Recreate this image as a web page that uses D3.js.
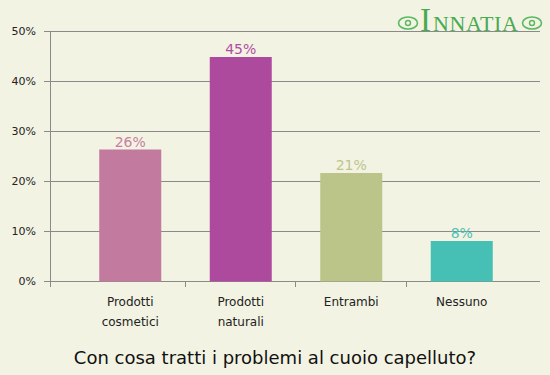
<!DOCTYPE html>
<html>
<head>
<meta charset="utf-8">
<script src="https://cdn.jsdelivr.net/npm/d3@7"></script>
<style>
  body { margin: 0; background: #f3f3e3; }
  svg { display: block; font-family: 'DejaVu Sans', Verdana, sans-serif; }
</style>
</head>
<body>
<div id="chart"></div>
<script>
// chart data
const categories = [['Prodotti', 'cosmetici'], ['Prodotti', 'naturali'], ['Entrambi'], ['Nessuno']];
const values = [26.3, 44.8, 21.6, 8.0];
const labels = ['26%', '45%', '21%', '8%'];
const barColors = ['#c27a9e', '#ae4a9e', '#bbc58a', '#46bfb5'];
const labelColors = ['#c97fa3', '#b04ea3', '#bcc58e', '#4cc2b8'];
const yTicks = [0, 10, 20, 30, 40, 50];

const width = 550;
const height = 375;

const svg = d3.select('#chart')
  .append('svg')
  .attr('width', width)
  .attr('height', height);

svg.append('rect')
  .attr('width', width)
  .attr('height', height)
  .style('fill', '#f3f3e3');

// scales
const xScale = d3.scaleBand()
  .domain(d3.range(categories.length))
  .range([75, 517]);

const yScale = d3.scaleLinear()
  .domain([0, 50])
  .range([281, 31]);

const barWidth = 62;

// logo (behind the grid)
const logo = svg.append('g');
logo.append('text')
  .attr('x', 420)
  .attr('y', 31)
  .style('font-family', "'Liberation Serif', serif")
  .style('fill', '#4aaa52')
  .html('<tspan style="font-size:33px">I</tspan><tspan dx="2" style="font-size:22px;letter-spacing:0.6px">NNATIA</tspan>');

[408, 532].forEach((cx) => {
  logo.append('ellipse')
    .attr('cx', cx)
    .attr('cy', 23)
    .attr('rx', 9.5)
    .attr('ry', 6)
    .style('fill', 'none')
    .style('stroke', '#5cb862')
    .style('stroke-width', 1.6);
  logo.append('circle')
    .attr('cx', cx)
    .attr('cy', 23)
    .attr('r', 2.5)
    .style('fill', 'none')
    .style('stroke', '#5cb862')
    .style('stroke-width', 1.4);
});

// gridlines + y ticks
svg.selectAll('.grid')
  .data(yTicks)
  .enter()
  .append('line')
  .attr('x1', 44)
  .attr('x2', 540)
  .attr('y1', (d) => yScale(d) + 0.5)
  .attr('y2', (d) => yScale(d) + 0.5)
  .style('stroke', '#8a8a8a')
  .style('stroke-width', 1);

svg.selectAll('.ylabel')
  .data(yTicks)
  .enter()
  .append('text')
  .attr('x', 36)
  .attr('y', (d) => yScale(d) + 4)
  .attr('text-anchor', 'end')
  .style('font-size', '11px')
  .style('fill', '#222')
  .text((d) => d + '%');

// y axis line
svg.append('line')
  .attr('x1', 50.5)
  .attr('x2', 50.5)
  .attr('y1', yScale(50))
  .attr('y2', 287)
  .style('stroke', '#8a8a8a');

// x ticks at band boundaries
const xTickPos = categories.slice(1).map((d, i) => xScale(i + 1) - 1);
svg.selectAll('.xtick')
  .data(xTickPos)
  .enter()
  .append('line')
  .attr('x1', (d) => Math.round(d) + 0.5)
  .attr('x2', (d) => Math.round(d) + 0.5)
  .attr('y1', 281)
  .attr('y2', 287)
  .style('stroke', '#8a8a8a');

// bars
svg.selectAll('.bar')
  .data(values)
  .enter()
  .append('rect')
  .attr('x', (d, i) => xScale(i) + xScale.bandwidth() / 2 - barWidth / 2)
  .attr('y', (d) => yScale(d))
  .attr('width', barWidth)
  .attr('height', (d) => yScale(0) - yScale(d) + 0.5)
  .style('fill', (d, i) => barColors[i]);

// value labels
svg.selectAll('.vlabel')
  .data(values)
  .enter()
  .append('text')
  .attr('x', (d, i) => xScale(i) + xScale.bandwidth() / 2)
  .attr('y', (d) => yScale(d) - 3)
  .attr('text-anchor', 'middle')
  .style('font-size', '14px')
  .style('fill', (d, i) => labelColors[i])
  .text((d, i) => labels[i]);

// category labels
const catGroups = svg.selectAll('.cat')
  .data(categories)
  .enter()
  .append('text')
  .attr('text-anchor', 'middle')
  .style('font-size', '12px')
  .style('fill', '#222');

catGroups.selectAll('tspan')
  .data((d, i) => d.map((line) => ({ line, i })))
  .enter()
  .append('tspan')
  .attr('x', (d) => xScale(d.i) + xScale.bandwidth() / 2)
  .attr('y', (d, j) => 306 + j * 20)
  .text((d) => d.line);

// title
svg.append('text')
  .attr('x', width / 2)
  .attr('y', 364)
  .attr('text-anchor', 'middle')
  .style('font-size', '18px')
  .style('fill', '#111')
  .text('Con cosa tratti i problemi al cuoio capelluto?');
</script>
</body>
</html>
